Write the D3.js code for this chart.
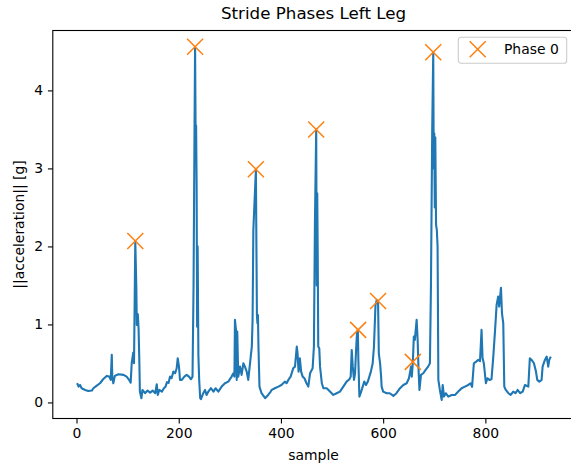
<!DOCTYPE html>
<html>
<head>
<meta charset="utf-8">
<script src="https://cdn.jsdelivr.net/npm/d3@7"></script>
<style>
  body { margin: 0; background: #fff; }
  svg { display: block; font-family: "DejaVu Sans", sans-serif; }
</style>
</head>
<body>
<div id="chart"></div>
<script>
// Sample index and acceleration magnitude
const sampleIdx = [0,2,4,7,10,17,23,30,33,39,46,52,59,64,67,69,70,72,75,82,92,98,103,106,108,111,112.5,115,117,118,120,121.5,123,124,127,129,134,139,144,149,154,157,159,162,167,171,174,177,180,183,186,189.5,193,196,198,200.5,202.5,206,211,215.5,220,224,227,229,231,232,233,234,235,236,237,238.5,240,242,243.5,248,251.5,254.5,258,263,268,272,277.5,284,290.5,297,303.5,307,309,310,312,313.5,314.5,316.5,320,323,326.5,329.5,333,336,339.5,343,344.5,346,351,352,353,354,355,356,358,362,369,375,380,382,388,395,401,408,411,414.5,419,424,427.5,431,432.5,434.5,437,439.5,442.5,446,450,453.5,457,462,464.5,466.5,469,470,471,472,473,475,476.5,480,483,489.5,496,502.5,509,515.5,522,528.5,534,536.5,538.5,540.5,543,545,547,549,550.5,551.5,553.5,556,560,563,566.5,570,573,576,579.5,582,585,587.5,590,591.5,594,596,597,600,607,613,620,626,633,639.5,646,650.5,654.5,656,658,660,662,665.5,667.5,669,671,674,678.5,683,688,691.5,693.5,696,698,699,700,701,702,703.5,705,706.5,708,711,714.5,716.5,719,722.5,727.5,734,740.5,747,753.5,760,766.5,771,774,777.5,782,786,789.5,792.5,794.5,797,799,801,804,808,812,815.5,819,822,825,827,830.5,832.5,835,837,840,845,849.5,854.5,859,863,868,873,877.5,884,887,890.5,895,899,901.5,905.5,910,912,916.5,920,923,925,928];
const accel = [0.24,0.237,0.203,0.224,0.182,0.16,0.147,0.152,0.182,0.212,0.246,0.297,0.34,0.331,0.289,0.61,0.331,0.246,0.34,0.361,0.353,0.331,0.289,0.254,0.502,0.639,0.502,2.07,1.485,0.994,1.13,0.93,0.502,0.139,0.053,0.16,0.118,0.152,0.126,0.152,0.118,0.233,0.096,0.16,0.139,0.182,0.2,0.26,0.25,0.331,0.31,0.395,0.374,0.438,0.566,0.459,0.289,0.289,0.331,0.353,0.331,0.297,0.331,1.5,3.6,4.56,3.5,3.55,2.8,0.97,2.0,0.6,0.29,0.054,0.041,0.118,0.16,0.096,0.139,0.182,0.139,0.182,0.139,0.203,0.246,0.267,0.331,0.374,0.331,1.058,0.93,0.289,0.908,0.331,0.459,0.353,0.502,0.459,0.395,0.289,0.502,0.716,1.058,2.21,2.99,2.0,1.12,1.015,1.12,0.716,0.203,0.118,0.054,0.096,0.14,0.16,0.182,0.203,0.224,0.267,0.246,0.289,0.331,0.438,0.459,0.716,0.63,0.395,0.566,0.395,0.331,0.31,0.246,0.203,0.374,0.438,0.716,2.3,3.5,1.5,2.68,1.87,0.716,0.695,0.459,0.246,0.182,0.182,0.139,0.096,0.118,0.139,0.203,0.267,0.297,0.331,0.673,0.459,0.289,0.374,0.673,0.908,0.93,0.545,0.075,0.118,0.203,0.267,0.224,0.267,0.331,0.395,0.502,0.716,1.25,1.314,1.29,0.63,0.502,0.331,0.203,0.139,0.118,0.118,0.083,0.118,0.182,0.224,0.246,0.31,0.459,0.331,0.502,0.844,0.801,1.058,0.801,0.459,0.16,0.353,0.374,0.417,0.459,0.502,1.485,3.5,4.49,3.0,3.45,2.5,3.4,2.28,2.21,1.998,0.289,0.16,0.032,0.224,0.075,0.118,0.075,0.096,0.096,0.139,0.182,0.203,0.224,0.246,0.2,0.502,0.524,0.545,0.53,0.93,0.566,0.502,0.374,0.246,0.31,0.289,0.297,0.588,0.93,1.25,1.357,1.229,1.47,1.143,1.015,0.203,0.16,0.118,0.096,0.139,0.118,0.16,0.118,0.139,0.224,0.203,0.566,0.545,0.502,0.395,0.289,0.267,0.289,0.459,0.545,0.588,0.459,0.545,0.588];

// Phase 0 markers
const phase0Idx = [115, 232, 351, 469, 551, 590, 658, 698];
const phase0Val = [2.07, 4.56, 2.99, 3.5, 0.93, 1.3, 0.52, 4.49];

const xTicks = [0, 200, 400, 600, 800];
const yTicks = [0, 1, 2, 3, 4];

const W = 571, H = 465;
const plot = { left: 52.8, right: 574.3, top: 30.5, bottom: 418.5 };

const svg = d3.select("#chart")
    .append("svg")
    .attr("width", W)
    .attr("height", H);

svg.append("rect").attr("width", W).attr("height", H).attr("fill", "#fff");

const x = d3.scaleLinear()
    .domain([-46.4, 974])
    .range([plot.left, plot.right]);

const y = d3.scaleLinear()
    .domain([-0.206, 4.768])
    .range([plot.bottom, plot.top]);

// clip for the data
svg.append("clipPath").attr("id", "clip")
    .append("rect")
    .attr("x", plot.left).attr("y", plot.top)
    .attr("width", plot.right - plot.left)
    .attr("height", plot.bottom - plot.top);

const series = sampleIdx.map((s, i) => ({ s: s, v: accel[i] }));

const line = d3.line()
    .x(d => x(d.s))
    .y(d => y(d.v));

svg.append("path")
    .datum(series)
    .attr("clip-path", "url(#clip)")
    .attr("fill", "none")
    .attr("stroke", "#1f77b4")
    .attr("stroke-width", 2.1)
    .attr("stroke-linejoin", "round")
    .attr("d", line);

// x-shaped markers
const xMark = (cx, cy, h) =>
    `M${cx - h},${cy - h}L${cx + h},${cy + h}M${cx - h},${cy + h}L${cx + h},${cy - h}`;

const markers = svg.append("g").attr("clip-path", "url(#clip)");
phase0Idx.forEach((s, i) => {
    markers.append("path")
        .attr("d", xMark(x(s), y(phase0Val[i]), 8))
        .attr("stroke", "#ff7f0e")
        .attr("stroke-width", 1.5)
        .attr("fill", "none");
});

// axes
const xAxis = svg.append("g")
    .attr("transform", `translate(0,${plot.bottom})`)
    .call(d3.axisBottom(x).tickValues(xTicks).tickSize(4.9).tickPadding(4.9).tickFormat(d3.format("d")));

const yAxis = svg.append("g")
    .attr("transform", `translate(${plot.left},0)`)
    .call(d3.axisLeft(y).tickValues(yTicks).tickSize(4.9).tickPadding(4.9).tickFormat(d3.format("d")));

[xAxis, yAxis].forEach(a => {
    a.select(".domain").remove();
    a.selectAll("line").attr("stroke", "#000").attr("stroke-width", 1.1);
    a.selectAll("text")
        .attr("font-family", "DejaVu Sans, sans-serif")
        .attr("font-size", 13.9)
        .attr("fill", "#000");
});

// spines
svg.append("rect")
    .attr("x", plot.left).attr("y", plot.top)
    .attr("width", plot.right - plot.left)
    .attr("height", plot.bottom - plot.top)
    .attr("fill", "none")
    .attr("stroke", "#000")
    .attr("stroke-width", 1.1);

// title and axis labels
const midX = (plot.left + plot.right) / 2;
svg.append("text")
    .attr("x", midX)
    .attr("y", 18.5)
    .attr("text-anchor", "middle")
    .attr("font-size", 16.7)
    .text("Stride Phases Left Leg");

svg.append("text")
    .attr("x", midX)
    .attr("y", 460)
    .attr("text-anchor", "middle")
    .attr("font-size", 13.9)
    .text("sample");

svg.append("text")
    .attr("transform", `translate(24,${(plot.top + plot.bottom) / 2}) rotate(-90)`)
    .attr("text-anchor", "middle")
    .attr("font-size", 13.9)
    .text("||acceleration|| [g]");

// legend
const legend = svg.append("g").attr("transform", "translate(458.3,37.3)");
legend.append("rect")
    .attr("width", 108.4)
    .attr("height", 26)
    .attr("rx", 2.8)
    .attr("fill", "#fff")
    .attr("fill-opacity", 0.8)
    .attr("stroke", "#cccccc")
    .attr("stroke-width", 1.1);
legend.append("path")
    .attr("d", xMark(19.4, 12, 8))
    .attr("stroke", "#ff7f0e")
    .attr("stroke-width", 1.5);
legend.append("text")
    .attr("x", 45.7)
    .attr("y", 17)
    .attr("font-size", 13.9)
    .text("Phase 0");
</script>
</body>
</html>
